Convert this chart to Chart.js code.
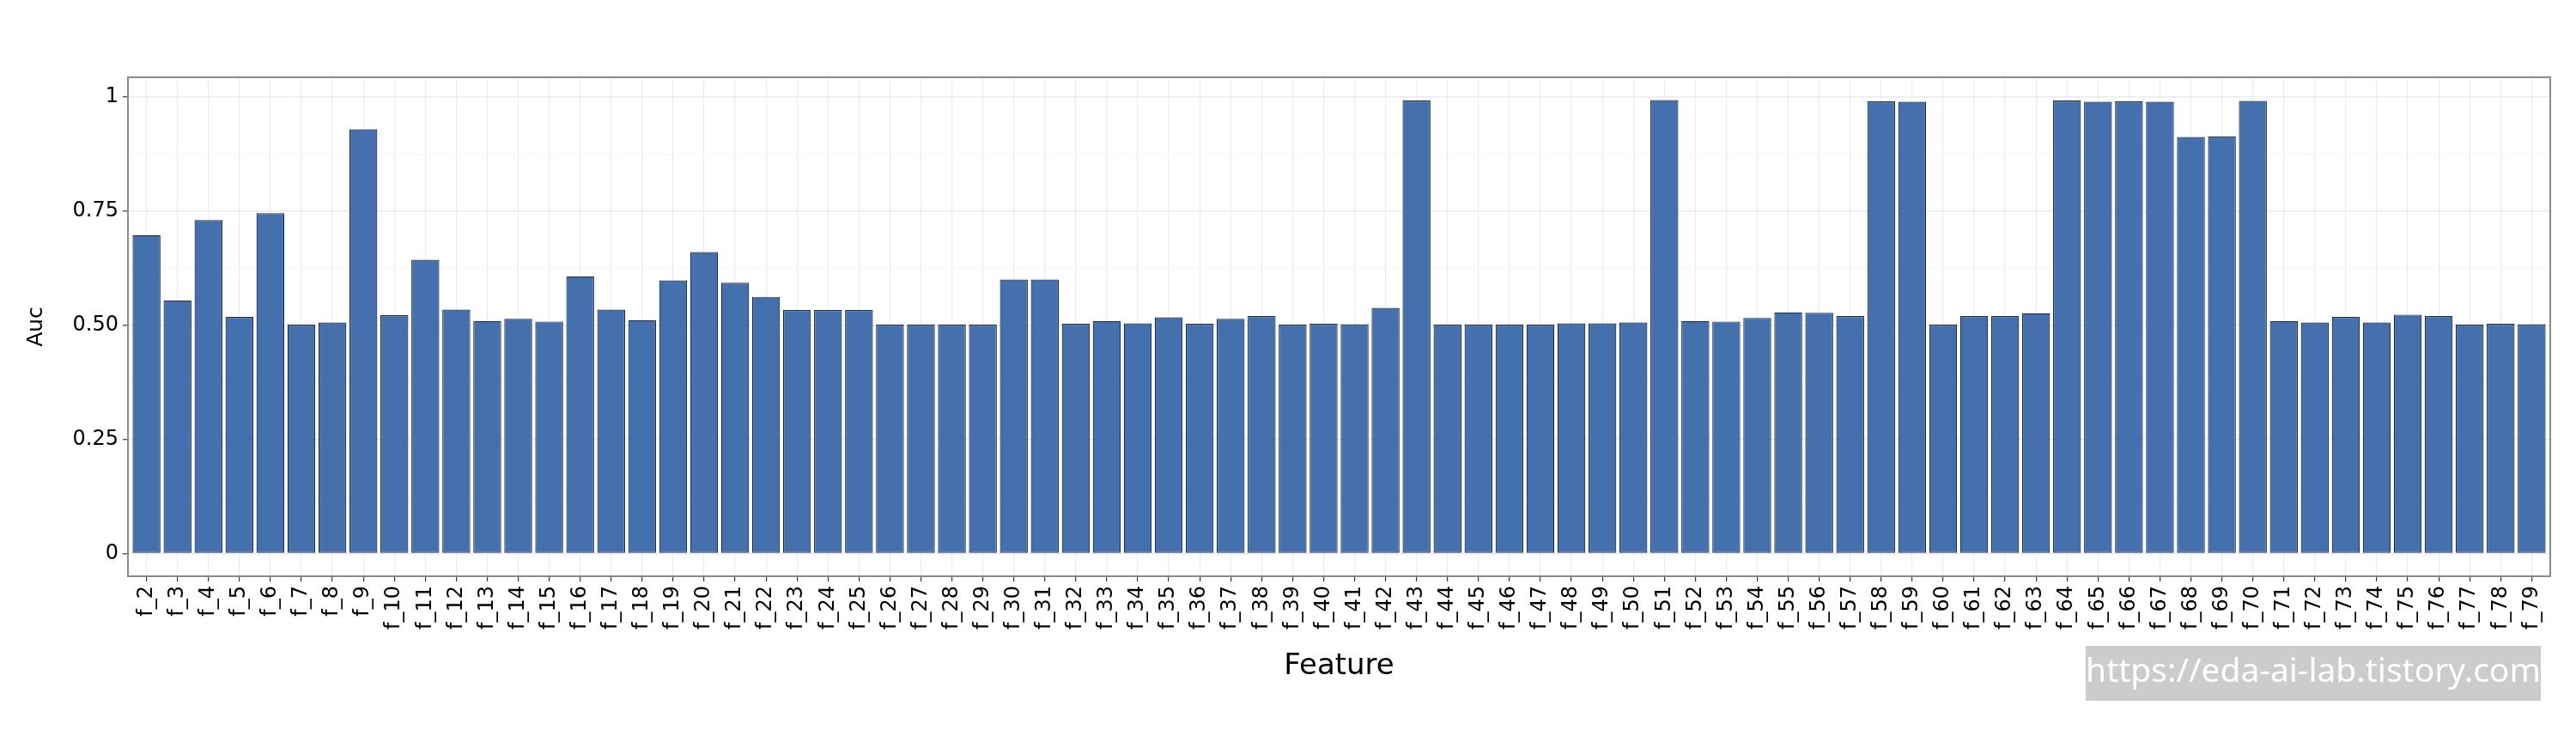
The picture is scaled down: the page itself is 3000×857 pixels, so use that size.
<!DOCTYPE html>
<html>
<head>
<meta charset="utf-8">
<script src="https://cdn.jsdelivr.net/npm/chart.js@4/dist/chart.umd.min.js"></script>
<style>
  html, body { margin: 0; padding: 0; background: #ffffff; }
  #chart { display: block; }
</style>
</head>
<body>
<canvas id="chart" width="3000" height="857"></canvas>
<script>
const features = [
  'f_2', 'f_3', 'f_4', 'f_5', 'f_6', 'f_7', 'f_8', 'f_9', 'f_10', 'f_11',
  'f_12', 'f_13', 'f_14', 'f_15', 'f_16', 'f_17', 'f_18', 'f_19', 'f_20', 'f_21',
  'f_22', 'f_23', 'f_24', 'f_25', 'f_26', 'f_27', 'f_28', 'f_29', 'f_30', 'f_31',
  'f_32', 'f_33', 'f_34', 'f_35', 'f_36', 'f_37', 'f_38', 'f_39', 'f_40', 'f_41',
  'f_42', 'f_43', 'f_44', 'f_45', 'f_46', 'f_47', 'f_48', 'f_49', 'f_50', 'f_51',
  'f_52', 'f_53', 'f_54', 'f_55', 'f_56', 'f_57', 'f_58', 'f_59', 'f_60', 'f_61',
  'f_62', 'f_63', 'f_64', 'f_65', 'f_66', 'f_67', 'f_68', 'f_69', 'f_70', 'f_71',
  'f_72', 'f_73', 'f_74', 'f_75', 'f_76', 'f_77', 'f_78', 'f_79'
];

const auc = [
  0.697, 0.554, 0.730, 0.518, 0.745, 0.501, 0.506, 0.929, 0.522, 0.643,
  0.534, 0.509, 0.514, 0.508, 0.607, 0.534, 0.511, 0.598, 0.660, 0.593,
  0.562, 0.533, 0.533, 0.533, 0.501, 0.501, 0.501, 0.501, 0.600, 0.600,
  0.503, 0.509, 0.504, 0.517, 0.503, 0.514, 0.520, 0.501, 0.503, 0.502,
  0.538, 0.992, 0.501, 0.501, 0.501, 0.501, 0.504, 0.504, 0.506, 0.993,
  0.509, 0.508, 0.516, 0.528, 0.527, 0.520, 0.990, 0.989, 0.501, 0.520,
  0.520, 0.526, 0.992, 0.989, 0.990, 0.989, 0.912, 0.913, 0.991, 0.509,
  0.506, 0.518, 0.506, 0.523, 0.520, 0.501, 0.503, 0.502
];

const yMajor = [0, 0.25, 0.5, 0.75, 1];
const yMajorLabels = ['0', '0.25', '0.50', '0.75', '1'];
const yMinor = [0.125, 0.375, 0.625, 0.875];

const font = 'DejaVu Sans';

// ggplot style panel border, drawn over the bars
const panelBorder = {
  id: 'panelBorder',
  afterDatasetsDraw(chart) {
    const { ctx, chartArea: a } = chart;
    ctx.save();
    ctx.strokeStyle = '#8a8a8a';
    ctx.lineWidth = 2;
    ctx.strokeRect(a.left, a.top, a.right - a.left, a.bottom - a.top);
    ctx.restore();
  }
};

const watermark = {
  id: 'watermark',
  afterDraw(chart) {
    const ctx = chart.ctx;
    ctx.save();
    ctx.fillStyle = '#cccccc';
    ctx.fillRect(2429, 752, 530, 64);
    ctx.fillStyle = '#ffffff';
    ctx.font = '39px "Noto Sans"';
    ctx.textAlign = 'center';
    ctx.textBaseline = 'middle';
    ctx.fillText('https://eda-ai-lab.tistory.com', 2694, 783);
    ctx.restore();
  }
};

new Chart(document.getElementById('chart'), {
  type: 'bar',
  data: {
    datasets: [{
      label: 'Auc',
      data: auc.map((v, i) => ({ x: i + 1, y: v })),
      backgroundColor: '#4471ad',
      borderColor: '#1e2b45',
      borderWidth: 1.2,
      borderSkipped: false,
      barPercentage: 0.9,
      categoryPercentage: 1.0
    }]
  },
  options: {
    responsive: false,
    animation: false,
    devicePixelRatio: 1,
    layout: { padding: { top: 90, right: 30, left: 0, bottom: 0 } },
    plugins: {
      legend: { display: false },
      tooltip: { enabled: false }
    },
    scales: {
      x: {
        type: 'linear',
        offset: false,
        min: 0.4,
        max: features.length + 0.6,
        afterBuildTicks: scale => {
          scale.ticks = features.map((f, i) => ({ value: i + 1 }));
        },
        afterFit: scale => { scale.height = 186; },
        ticks: {
          autoSkip: false,
          minRotation: 90,
          maxRotation: 90,
          padding: 5,
          color: '#000000',
          font: { family: font, size: 24 },
          callback: value => features[value - 1]
        },
        grid: {
          offset: false,
          color: '#ebebeb',
          lineWidth: 1.2,
          tickLength: 6,
          tickColor: '#333333',
          tickWidth: 1.2
        },
        border: { display: false },
        title: {
          display: true,
          text: 'Feature',
          color: '#000000',
          font: { family: font, size: 34 },
          padding: { top: 0, bottom: 60 }
        }
      },
      y: {
        min: -0.0497,
        max: 1.0427,
        afterBuildTicks: scale => {
          scale.ticks = yMajor.concat(yMinor).map(v => ({ value: v }));
        },
        afterFit: scale => { scale.width = 149; },
        ticks: {
          padding: 5,
          color: '#000000',
          font: { family: font, size: 24 },
          callback: value => {
            const k = yMajor.indexOf(value);
            return k >= 0 ? yMajorLabels[k] : '';
          }
        },
        grid: {
          color: ctx => yMinor.includes(ctx.tick.value) ? '#f5f5f5' : '#ebebeb',
          lineWidth: ctx => yMinor.includes(ctx.tick.value) ? 1 : 1.5,
          tickLength: 6,
          tickColor: ctx => yMinor.includes(ctx.tick.value) ? 'rgba(0,0,0,0)' : '#333333',
          tickWidth: 1.2
        },
        border: { display: false },
        title: {
          display: true,
          text: 'Auc',
          color: '#000000',
          font: { family: font, size: 25 },
          padding: { top: 27, bottom: 0 }
        }
      }
    }
  },
  plugins: [panelBorder, watermark]
});
</script>
</body>
</html>
